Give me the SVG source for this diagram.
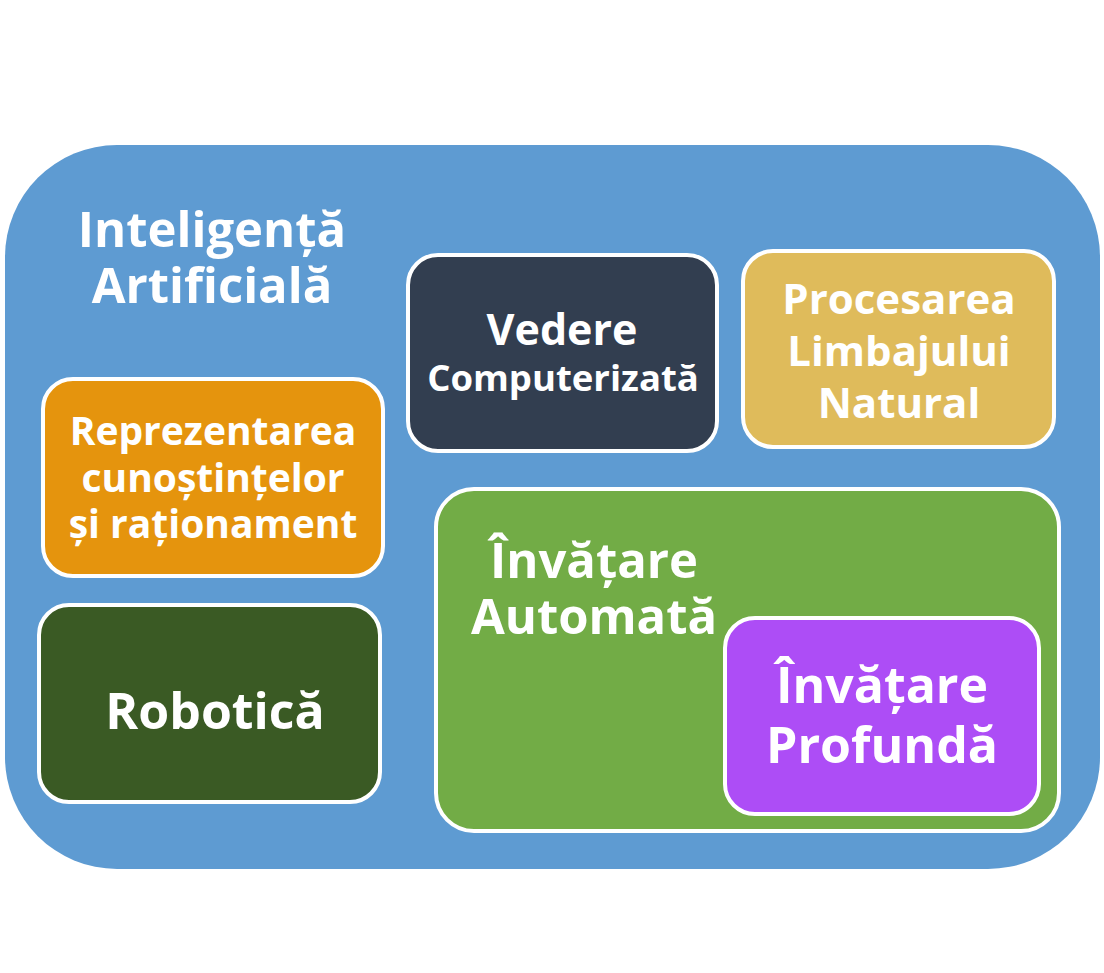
<svg xmlns="http://www.w3.org/2000/svg" width="1104" height="973" viewBox="0 0 1104 973">
<style>
.box{stroke:#ffffff;stroke-width:4;stroke-linejoin:round}
.t{font-family:"Open Sans","Noto Sans","DejaVu Sans",sans-serif;font-weight:700;fill:#ffffff;text-anchor:middle}
</style>
<rect width="1104" height="973" fill="#ffffff"/>
<g id="ai">
<rect x="5" y="145" width="1095" height="724" rx="112" ry="112" fill="#5e9bd2"/>
<text class="t" font-size="49"><tspan x="212" y="247">Inteligență</tspan><tspan x="212" y="303">Artificială</tspan></text>
</g>
<g id="vedere">
<rect class="box" x="408" y="255" width="309" height="196" rx="30" fill="#323e50"/>
<text class="t"><tspan x="562" y="345" font-size="43">Vedere</tspan><tspan x="563" y="391" font-size="36.5">Computerizată</tspan></text>
</g>
<g id="nlp">
<rect class="box" x="743" y="251" width="311" height="196" rx="30" fill="#dfbb5b"/>
<text class="t" font-size="42"><tspan x="899" y="314">Procesarea</tspan><tspan x="899" y="366">Limbajului</tspan><tspan x="899" y="418">Natural</tspan></text>
</g>
<g id="kr">
<rect class="box" x="43" y="379" width="340" height="197" rx="30" fill="#e5940d"/>
<text class="t" font-size="39"><tspan x="213" y="445">Reprezentarea</tspan><tspan x="213" y="492">cunoștințelor</tspan><tspan x="213" y="538">și raționament</tspan></text>
</g>
<g id="robotica">
<rect class="box" x="39" y="605" width="341" height="197" rx="30" fill="#3a5a24"/>
<text class="t" font-size="50"><tspan x="215" y="729">Robotică</tspan></text>
</g>
<g id="ml">
<rect class="box" x="436" y="489" width="623" height="342" rx="38" fill="#72ac46"/>
<text class="t" font-size="49"><tspan x="594" y="578">Învățare</tspan><tspan x="594" y="634">Automată</tspan></text>
</g>
<g id="dl">
<rect class="box" x="725" y="618" width="314" height="196" rx="30" fill="#ad4df6"/>
<text class="t" font-size="50"><tspan x="882" y="703">Învățare</tspan><tspan x="882" y="763">Profundă</tspan></text>
</g>
<g id="connectors"/>
</svg>
